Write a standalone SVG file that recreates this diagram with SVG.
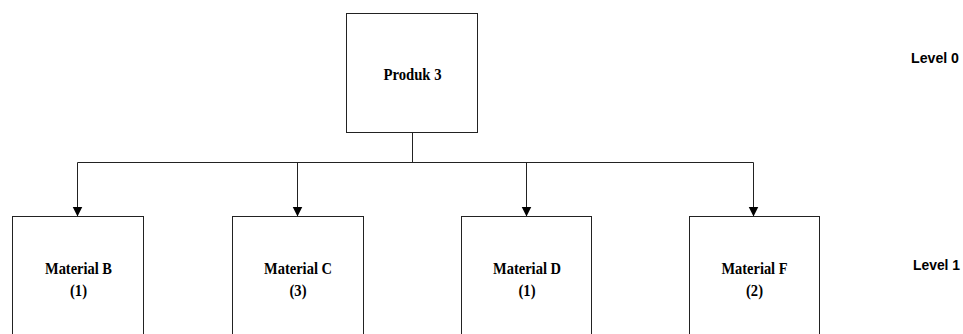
<svg xmlns="http://www.w3.org/2000/svg" width="963" height="334" viewBox="0 0 963 334">
  <style>
    .box { fill: #ffffff; stroke: #222222; stroke-width: 1; }
    .link { fill: none; stroke: #222222; stroke-width: 1; }
    .label { font-family: "Liberation Serif", "Times New Roman", serif; font-weight: bold; font-size: 16px; fill: #000000; text-anchor: middle; }
    .level { font-family: "Liberation Sans", Arial, sans-serif; font-weight: bold; font-size: 15px; fill: #000000; text-anchor: end; }
  </style>
  <defs>
    <marker id="arrow" viewBox="0 0 10 12" refX="10" refY="5" markerWidth="10" markerHeight="12" markerUnits="userSpaceOnUse" orient="auto">
      <path d="M0,0 L10,5 L0,10 Z" fill="#000000"/>
    </marker>
  </defs>
  <rect width="963" height="334" fill="#ffffff"/>

  <!-- product node -->
  <g id="produk3">
    <rect class="box" x="346.5" y="13.5" width="131" height="119"/>
    <text class="label" x="412.5" y="79.5" textLength="58" lengthAdjust="spacingAndGlyphs">Produk 3</text>
  </g>

  <!-- connectors -->
  <g id="connectors">
    <path class="link" d="M412.5,132.5 V162.5"/>
    <path class="link" d="M77.5,162.5 H753.5"/>
    <path class="link" d="M77.5,162.5 V216.5" marker-end="url(#arrow)"/>
    <path class="link" d="M297.5,162.5 V216.5" marker-end="url(#arrow)"/>
    <path class="link" d="M526.5,162.5 V216.5" marker-end="url(#arrow)"/>
    <path class="link" d="M753.5,162.5 V216.5" marker-end="url(#arrow)"/>
  </g>

  <!-- material nodes -->
  <g id="materialB">
    <rect class="box" x="12.5" y="216.5" width="131" height="130"/>
    <text class="label" x="78.5" y="274" textLength="67" lengthAdjust="spacingAndGlyphs">Material B</text>
    <text class="label" x="78.5" y="296" textLength="17" lengthAdjust="spacingAndGlyphs">(1)</text>
  </g>
  <g id="materialC">
    <rect class="box" x="232.5" y="216.5" width="131" height="130"/>
    <text class="label" x="298" y="274" textLength="68" lengthAdjust="spacingAndGlyphs">Material C</text>
    <text class="label" x="298" y="296" textLength="17" lengthAdjust="spacingAndGlyphs">(3)</text>
  </g>
  <g id="materialD">
    <rect class="box" x="461.5" y="216.5" width="130" height="130"/>
    <text class="label" x="527" y="274" textLength="68" lengthAdjust="spacingAndGlyphs">Material D</text>
    <text class="label" x="527" y="296" textLength="17" lengthAdjust="spacingAndGlyphs">(1)</text>
  </g>
  <g id="materialF">
    <rect class="box" x="689.5" y="216.5" width="130" height="130"/>
    <text class="label" x="754.5" y="274" textLength="66" lengthAdjust="spacingAndGlyphs">Material F</text>
    <text class="label" x="754.5" y="296" textLength="17" lengthAdjust="spacingAndGlyphs">(2)</text>
  </g>

  <!-- level labels -->
  <text class="level" x="959" y="63" textLength="48" lengthAdjust="spacingAndGlyphs">Level 0</text>
  <text class="level" x="960" y="270" textLength="47" lengthAdjust="spacingAndGlyphs">Level 1</text>
</svg>
